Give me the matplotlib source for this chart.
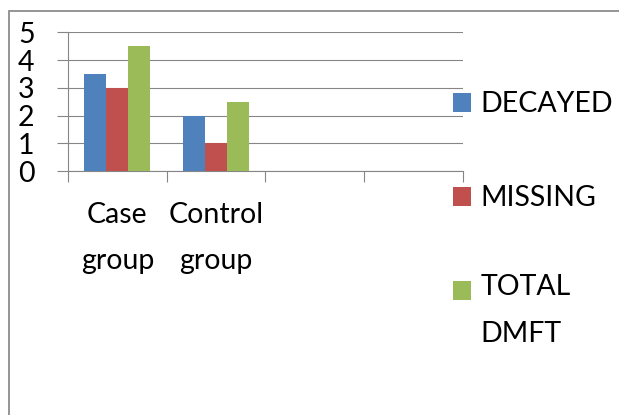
import matplotlib
matplotlib.use("Agg")
import matplotlib.pyplot as plt
from matplotlib.patches import Rectangle
from matplotlib.font_manager import FontProperties
import numpy as np

categories = ["Case\ngroup", "Control\ngroup", "", ""]
series_names = ["DECAYED", "MISSING", "TOTAL\nDMFT"]
decayed = [3.5, 2.0]
missing = [3.0, 1.0]
total_dmft = [4.5, 2.5]
yticks = [0, 1, 2, 3, 4, 5]

colors = ["#4F81BD", "#C0504D", "#9BBB59"]
grid_c = "#868686"
FONT = "Lato"
FS = 20.5

W, H = 619, 415
fig = plt.figure(figsize=(W / 100, H / 100), dpi=100)
ax = fig.add_axes([68 / W, 1 - 171 / H, (462.7 - 68) / W, (171 - 32.3) / H])

# line spacing so that consecutive baselines are ~42 px apart
renderer = fig.canvas.get_renderer()
fp = FontProperties(family=FONT, size=FS)
_, h_lp, d_lp = renderer.get_text_width_height_descent("lp", fp, ismath=False)
LS = 41.8 / (h_lp - d_lp)

n_slots = len(categories)
pos = np.arange(len(decayed)) + 0.5
bw = 0.224
for i, (vals, c) in enumerate(zip([decayed, missing, total_dmft], colors)):
    ax.bar(pos + (i - 1) * bw, vals, width=bw, color=c, zorder=3,
           label=series_names[i])

ax.set_xlim(0, n_slots)
ax.set_ylim(0, 5)
ax.set_yticks(yticks)
ax.set_yticklabels([str(v) for v in yticks], fontsize=FS, family=FONT)
ax.yaxis.grid(True, color=grid_c, linewidth=0.8, zorder=0)
ax.set_axisbelow(True)

ax.set_xticks(np.arange(n_slots + 1))
ax.set_xticklabels([])
ax.set_xticks(np.arange(n_slots) + 0.5, minor=True)
ax.set_xticklabels(categories, minor=True, fontsize=FS, family=FONT)
ax.tick_params(axis="x", which="major", length=8, width=0.8, color=grid_c, direction="out")
ax.tick_params(axis="x", which="minor", length=0, pad=22)
ax.tick_params(axis="y", length=8, width=0.8, color=grid_c, pad=16)
for tk in ax.xaxis.get_minor_ticks():
    tk.label1.set_linespacing(LS)

for s in ["top", "right"]:
    ax.spines[s].set_visible(False)
for s in ["left", "bottom"]:
    ax.spines[s].set_color(grid_c)
    ax.spines[s].set_linewidth(0.8)

# legend (drawn manually to match the wrapped layout)
sq = 18.5
leg_x = 452.7
text_x = 480.7
leg_baselines = [112.3, 206.0, 300.0]
for name, c, yb in zip(series_names, colors, leg_baselines):
    fig.patches.append(Rectangle((leg_x / W, 1 - (yb - 0.5) / H), sq / W, sq / H,
                                 transform=fig.transFigure, facecolor=c,
                                 edgecolor="none"))
    nlines = name.count("\n")
    fig.text(text_x / W, 1 - (yb + 41.8 * nlines) / H, name, family=FONT,
             fontsize=FS, va="baseline", ha="left", linespacing=LS)

fig.patches.append(Rectangle((8.5 / W, -0.2), 1.0, 1 - 11 / H + 0.2,
                             transform=fig.transFigure, fill=False,
                             edgecolor="#8C8C8C", linewidth=1.3))

fig.savefig("out.png", dpi=100)
